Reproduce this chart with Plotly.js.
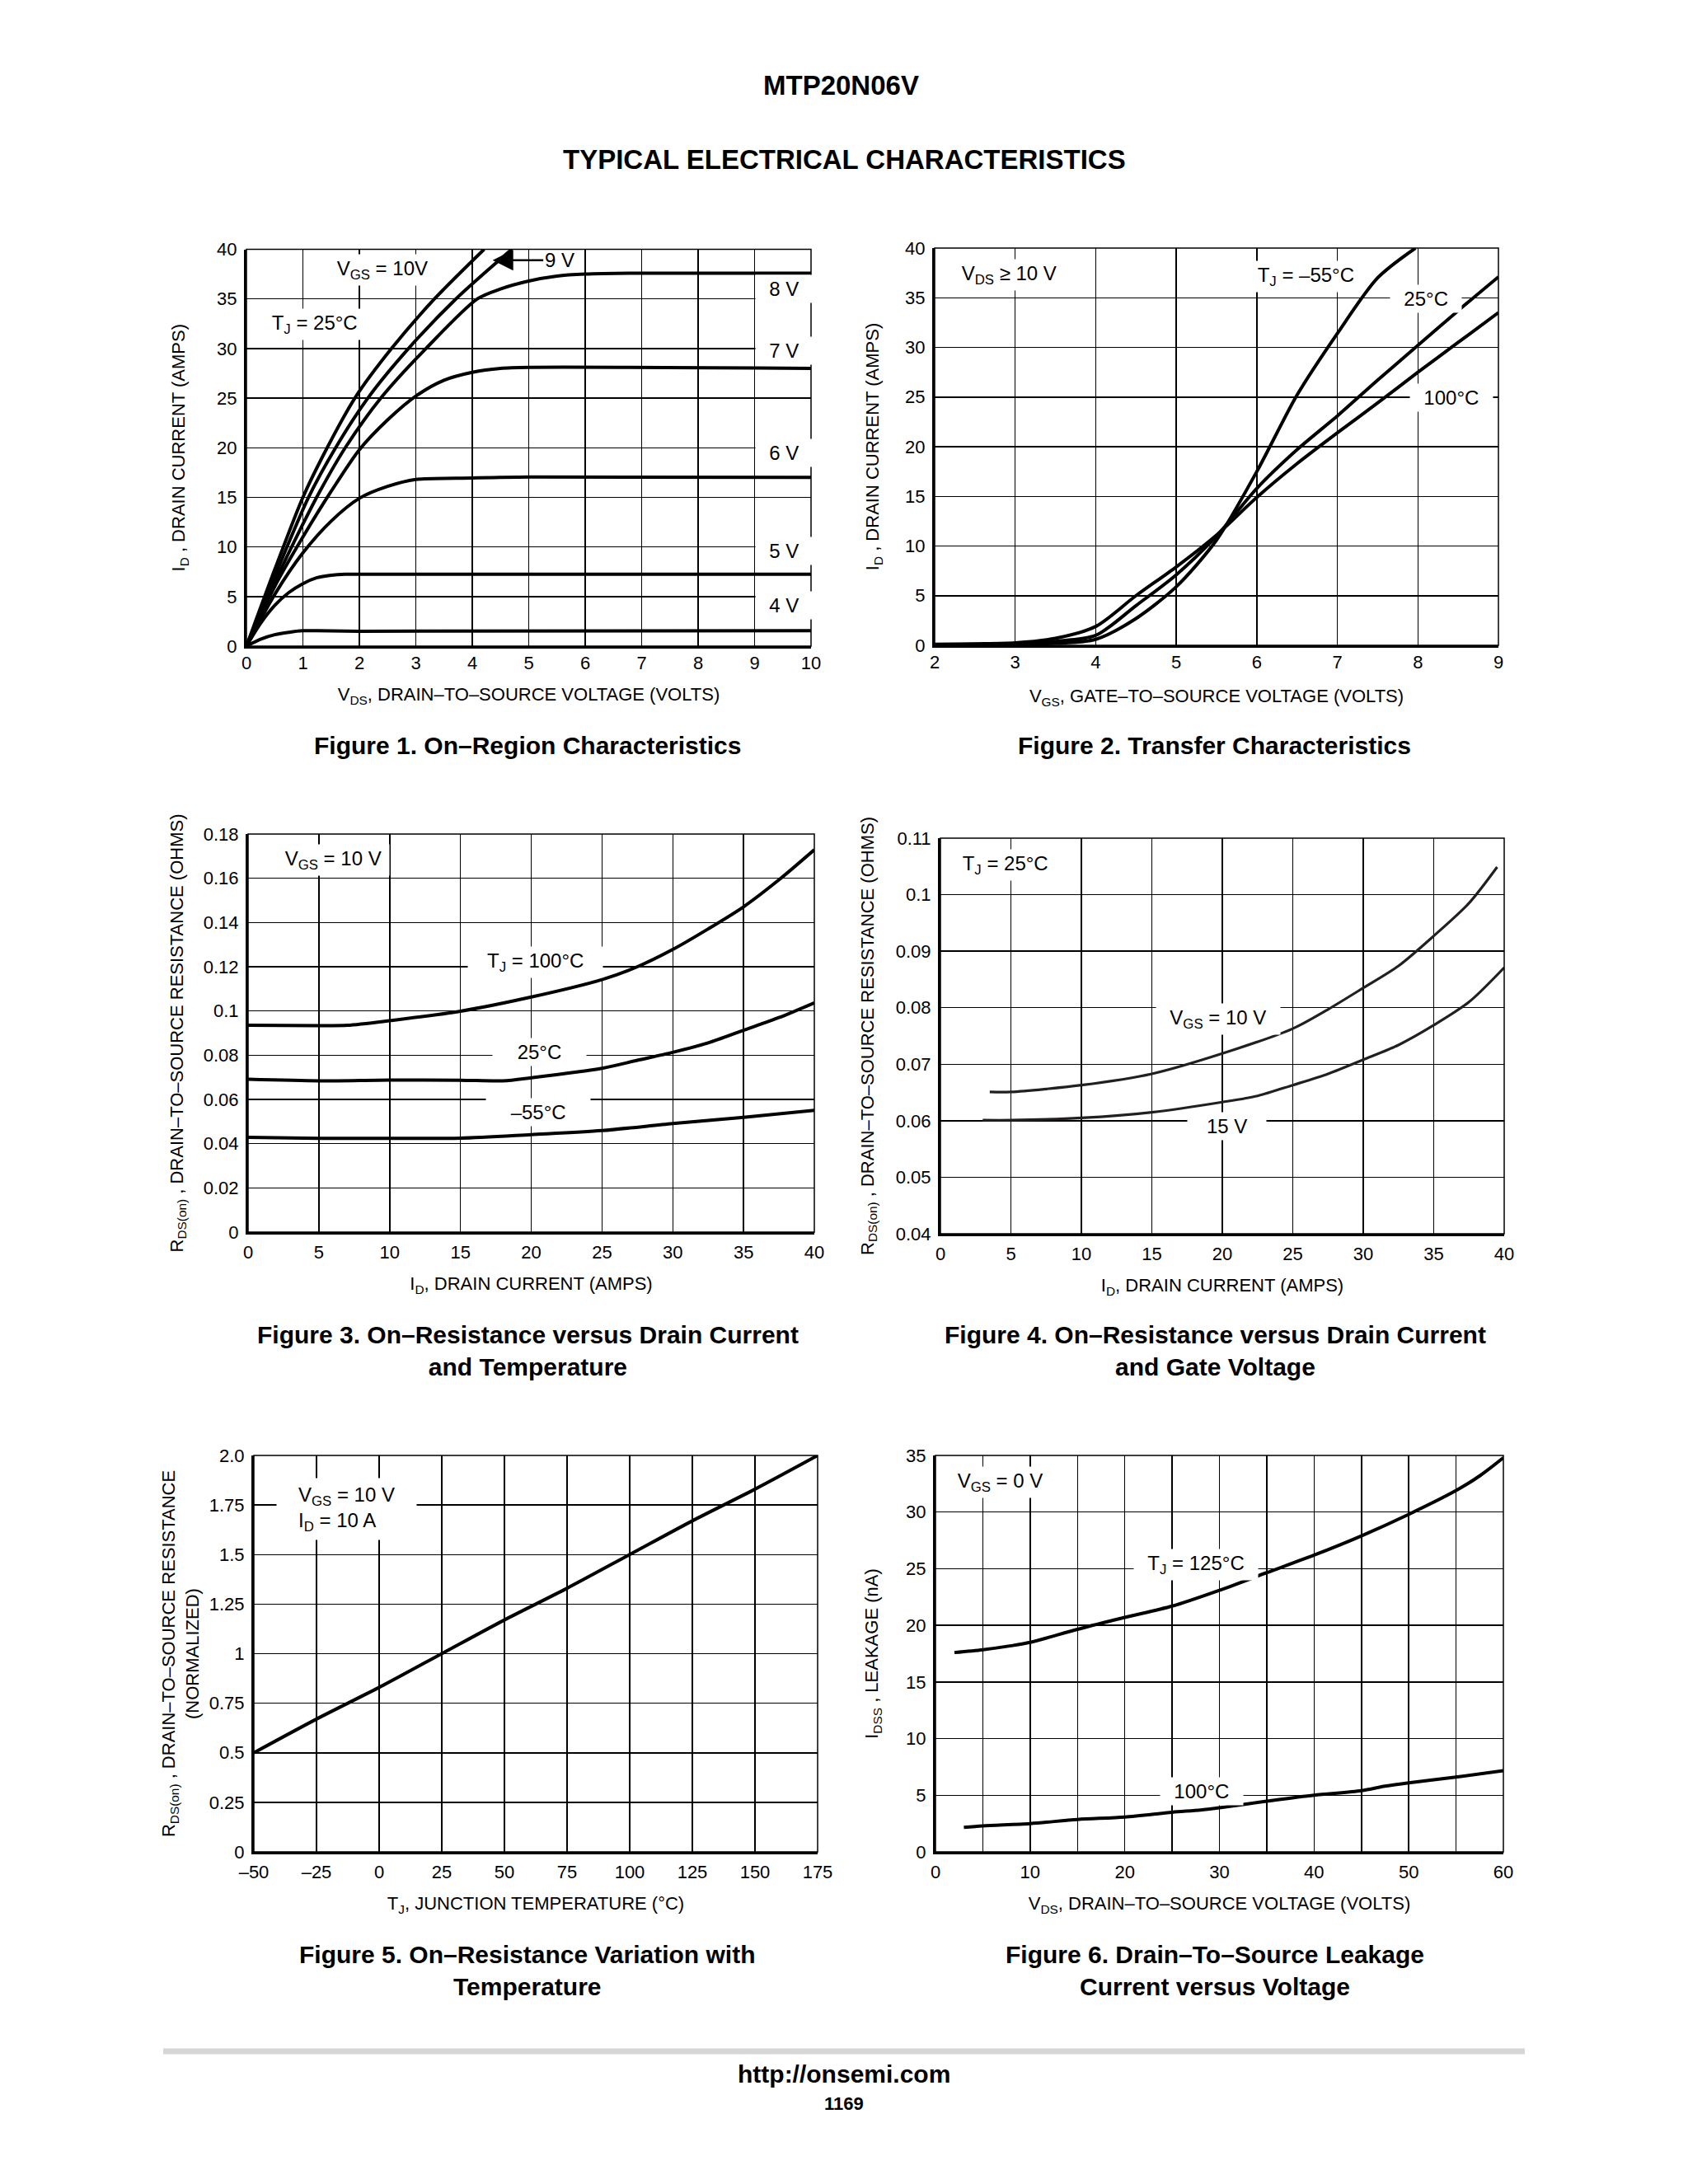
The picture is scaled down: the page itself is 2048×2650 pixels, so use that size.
<!DOCTYPE html>
<html>
<head>
<meta charset="utf-8">
<script src="https://cdn.plot.ly/plotly-3.0.1.min.js"></script>
<style>
html,body{margin:0;padding:0;background:#fff;}
#page{width:2048px;height:2650px;}
</style>
</head>
<body>
<div id="page"></div>
<script>
// ---------------- DATA ----------------
// Figure 1: On-Region Characteristics (VDS in volts, ID in amps)
const f1_v10_x = [0,0.5,1.0,1.43,1.92,2.57,3.33,4.21];
const f1_v10_y = [0,7.7,15,20,25,30,35,40];
const f1_v9_x  = [0,0.5,1.1,1.58,2.15,2.87,3.71,4.7];
const f1_v9_y  = [0,7.0,15,20,25,30,35,40];
const f1_v8_x  = [0,0.5,1,1.3,1.75,2.38,3.18,4.09,4.5,5,5.5,6,7,10];
const f1_v8_y  = [0,6.4,12.3,15.6,20,25,30,35,36.0,36.8,37.3,37.5,37.6,37.6];
const f1_v7_x  = [0,0.5,1,1.5,2,2.5,3,3.5,4,4.5,5,10];
const f1_v7_y  = [0,6.0,11.0,15.6,19.8,22.8,25.2,26.8,27.6,28.0,28.1,28.0];
const f1_v6_x  = [0,0.5,1,1.5,2,2.5,3,4,5,10];
const f1_v6_y  = [0,5.2,9.4,12.6,14.9,16.1,16.8,16.95,17.05,17.0];
const f1_v5_x  = [0,0.25,0.5,0.75,1,1.25,1.5,1.75,2,10];
const f1_v5_y  = [0,2.3,4.1,5.4,6.3,6.9,7.15,7.25,7.25,7.25];
const f1_v4_x  = [0,0.25,0.5,0.75,1,1.25,2,10];
const f1_v4_y  = [0,0.7,1.15,1.4,1.55,1.55,1.5,1.55];
const f1_xticks = [0,1,2,3,4,5,6,7,8,9,10];
const f1_yticks = [0,5,10,15,20,25,30,35,40];

// Figure 2: Transfer Characteristics (VGS volts, ID amps)
const f2_m55_x = [2,2.5,3,3.5,4,4.5,5,5.5,6,6.5,7,7.5,7.97];
const f2_m55_y = [0.05,0.05,0.1,0.2,0.6,2.7,5.9,10.6,17.5,25.2,31.4,37.0,40];
const f2_25_x  = [2,2.5,3,3.5,4,4.5,5,5.5,6,6.5,7,7.5,8,8.5,9];
const f2_25_y  = [0.05,0.1,0.15,0.4,1.0,4.0,7.1,11.0,15.8,19.7,23.1,26.7,30.2,33.7,37.1];
const f2_100_x = [2,2.5,3,3.5,4,4.5,5,5.5,6,6.5,7,7.5,8,8.5,9];
const f2_100_y = [0.1,0.15,0.25,0.7,1.9,5.0,7.9,11.1,14.9,18.3,21.4,24.4,27.5,30.5,33.5];
const f2_xticks = [2,3,4,5,6,7,8,9];
const f2_yticks = [0,5,10,15,20,25,30,35,40];

// Figure 3: RDS(on) vs ID and temperature
const f3_100_x = [0,5,7,10,15,20,25,27.5,30,32.5,35,37.5,40];
const f3_100_y = [0.0935,0.0934,0.0935,0.0956,0.0999,0.1063,0.1142,0.12,0.1278,0.1371,0.1471,0.1593,0.1729];
const f3_25_x  = [0,5,10,15,18,20,25,27.5,30,32.5,35,37.5,40];
const f3_25_y  = [0.0691,0.0684,0.0688,0.0687,0.0684,0.0698,0.0741,0.0777,0.0813,0.0856,0.0913,0.097,0.1037];
const f3_m55_x = [0,5,10,15,20,25,30,35,40];
const f3_m55_y = [0.0429,0.0424,0.0424,0.0425,0.0441,0.0459,0.0491,0.0519,0.0551];
const f3_xticks = [0,5,10,15,20,25,30,35,40];
const f3_yticks = [0,0.02,0.04,0.06,0.08,0.1,0.12,0.14,0.16,0.18];
const f3_ytext  = ['0','0.02','0.04','0.06','0.08','0.1','0.12','0.14','0.16','0.18'];

// Figure 4: RDS(on) vs ID and gate voltage
const f4_10_x = [3.5,5,10,15,20,25,27.5,30,32.5,35,37.5,39.5];
const f4_10_y = [0.0651,0.0651,0.0663,0.0683,0.0719,0.0763,0.0797,0.0835,0.0874,0.0927,0.0985,0.1049];
const f4_15_x = [3,5,10,15,20,22.5,25,27.5,30,32.5,35,37.5,40];
const f4_15_y = [0.0601,0.0601,0.0605,0.0615,0.0633,0.0644,0.0663,0.0683,0.0708,0.0734,0.0769,0.081,0.0871];
const f4_xticks = [0,5,10,15,20,25,30,35,40];
const f4_yticks = [0.04,0.05,0.06,0.07,0.08,0.09,0.1,0.11];
const f4_ytext  = ['0.04','0.05','0.06','0.07','0.08','0.09','0.1','0.11'];

// Figure 5: normalized RDS(on) vs TJ
const f5_x = [-50,-25,0,25,50,75,100,125,150,175];
const f5_y = [0.5,0.67,0.83,1.0,1.17,1.33,1.5,1.67,1.83,2.0];
const f5_xticks = [-50,-25,0,25,50,75,100,125,150,175];
const f5_xtext  = ['\u201350','\u201325','0','25','50','75','100','125','150','175'];
const f5_yticks = [0,0.25,0.5,0.75,1,1.25,1.5,1.75,2];
const f5_ytext  = ['0','0.25','0.5','0.75','1','1.25','1.5','1.75','2.0'];

// Figure 6: IDSS leakage vs VDS
const f6_125_x = [2,5,8,10,15,20,25,30,35,40,45,50,55,57.5,60];
const f6_125_y = [17.6,17.85,18.2,18.5,19.65,20.7,21.7,23.1,24.65,26.2,27.9,29.8,31.9,33.2,34.8];
const f6_100_x = [3,5,10,15,20,25,28,30,35,40,45,47.5,50,55,60];
const f6_100_y = [2.16,2.3,2.5,2.86,3.08,3.5,3.7,3.9,4.47,5.0,5.4,5.8,6.1,6.6,7.16];
const f6_xticks = [0,10,20,30,40,50,60];
const f6_yticks = [0,5,10,15,20,25,30,35];

// ---------------- LAYOUT ----------------
const W = 2048, H = 2650;
const FONT = "'Liberation Sans', Arial, Helvetica, sans-serif";
const BLACK = '#000';
// plot boxes in page pixels: [left, right, top, bottom]
const boxes = [
  [299, 984, 302.5, 784],
  [1134, 1818, 301, 783],
  [301, 988, 1012, 1495],
  [1141, 1825, 1017, 1497],
  [308, 992, 1766, 2247],
  [1135, 1824, 1766, 2247]
];
const sfx = i => (i === 1 ? '' : String(i));

const layout = {
  width: W, height: H,
  margin: {l: 0, r: 0, t: 0, b: 0, pad: 0},
  paper_bgcolor: '#fff', plot_bgcolor: '#fff',
  font: {family: FONT, color: BLACK, size: 22},
  showlegend: false,
  annotations: [], shapes: []
};

function axes(i, xstand, xa, ya) {
  const b = boxes[i - 1], s = sfx(i);
  const common = {
    showgrid: true, gridcolor: BLACK, gridwidth: 1.5,
    showline: true, linecolor: BLACK, linewidth: 3, mirror: false,
    zeroline: false, ticks: '', fixedrange: true, tickmode: 'array',
    tickfont: {family: FONT, size: 22, color: BLACK}
  };
  layout['xaxis' + s] = Object.assign({}, common, {
    domain: [b[0] / W, b[1] / W], anchor: 'y' + s, ticklabelstandoff: xstand
  }, xa);
  layout['yaxis' + s] = Object.assign({}, common, {
    domain: [1 - b[3] / H, 1 - b[2] / H], anchor: 'x' + s, ticklabelstandoff: 4
  }, ya);
  layout.shapes.push({type: 'rect', xref: 'x' + s + ' domain', yref: 'y' + s + ' domain',
    x0: 0, x1: 1, y0: 0, y1: 1, line: {color: BLACK, width: 1.5}, layer: 'above'});
}
function ttl(text, standoff) {
  return {text: text, font: {family: FONT, size: 22, color: BLACK}, standoff: standoff};
}

axes(1, -1,
  {range: [0, 10], tickvals: f1_xticks, title: ttl('V<sub>DS</sub>, DRAIN\u2013TO\u2013SOURCE VOLTAGE (VOLTS)', 19)},
  {range: [0, 40], tickvals: f1_yticks, title: ttl('I<sub>D</sub> , DRAIN CURRENT (AMPS)', 33)});
axes(2, -1,
  {range: [2, 9], tickvals: f2_xticks, title: ttl('V<sub>GS</sub>, GATE\u2013TO\u2013SOURCE VOLTAGE (VOLTS)', 22)},
  {range: [0, 40], tickvals: f2_yticks, title: ttl('I<sub>D</sub> , DRAIN CURRENT (AMPS)', 26)});
axes(3, 3,
  {range: [0, 40], tickvals: f3_xticks, title: ttl('I<sub>D</sub>, DRAIN CURRENT (AMPS)', 19)},
  {range: [0, 0.18], tickvals: f3_yticks, ticktext: f3_ytext, title: ttl('R<sub>DS(on)</sub> , DRAIN\u2013TO\u2013SOURCE RESISTANCE (OHMS)', 19)});
axes(4, 3,
  {range: [0, 40], tickvals: f4_xticks, title: ttl('I<sub>D</sub>, DRAIN CURRENT (AMPS)', 19)},
  {range: [0.04, 0.11], tickvals: f4_yticks, ticktext: f4_ytext, title: ttl('R<sub>DS(on)</sub> , DRAIN\u2013TO\u2013SOURCE RESISTANCE (OHMS)', 21)});
axes(5, 3,
  {range: [-50, 175], tickvals: f5_xticks, ticktext: f5_xtext, title: ttl('T<sub>J</sub>, JUNCTION TEMPERATURE (\u00b0C)', 19)},
  {range: [0, 2], tickvals: f5_yticks, ticktext: f5_ytext, title: ttl('R<sub>DS(on)</sub> , DRAIN\u2013TO\u2013SOURCE RESISTANCE<br>(NORMALIZED)', 7)});
axes(6, 3,
  {range: [0, 60], tickvals: f6_xticks, minor: {dtick: 5, tick0: 0, showgrid: true, gridcolor: BLACK, gridwidth: 1.5, ticks: ''},
   title: ttl('V<sub>DS</sub>, DRAIN\u2013TO\u2013SOURCE VOLTAGE (VOLTS)', 19)},
  {range: [0, 35], tickvals: f6_yticks, title: ttl('I<sub>DSS</sub> , LEAKAGE (nA)', 28)});

// ---------------- TRACES ----------------
const traces = [];
function curve(i, xs, ys, w, c) {
  const s = sfx(i);
  traces.push({x: xs, y: ys, xaxis: 'x' + s, yaxis: 'y' + s, type: 'scatter', mode: 'lines',
    line: {color: c || BLACK, width: w || 4, shape: 'spline', smoothing: 0.8},
    hoverinfo: 'skip', showlegend: false, cliponaxis: true});
}
curve(1, f1_v10_x, f1_v10_y); curve(1, f1_v9_x, f1_v9_y); curve(1, f1_v8_x, f1_v8_y);
curve(1, f1_v7_x, f1_v7_y); curve(1, f1_v6_x, f1_v6_y); curve(1, f1_v5_x, f1_v5_y);
curve(1, f1_v4_x, f1_v4_y);
curve(2, f2_m55_x, f2_m55_y); curve(2, f2_25_x, f2_25_y); curve(2, f2_100_x, f2_100_y);
curve(3, f3_100_x, f3_100_y); curve(3, f3_25_x, f3_25_y); curve(3, f3_m55_x, f3_m55_y);
curve(4, f4_10_x, f4_10_y, 3.2, '#231f20'); curve(4, f4_15_x, f4_15_y, 3.2, '#231f20');
curve(5, f5_x, f5_y);
curve(6, f6_125_x, f6_125_y); curve(6, f6_100_x, f6_100_y);

// ---------------- IN-PLOT LABELS ----------------
const NB = '\u00a0';
function lab(i, x, y, text, extra) {
  const s = sfx(i);
  layout.annotations.push(Object.assign({
    xref: 'x' + s, yref: 'y' + s, x: x, y: y, text: text, showarrow: false,
    font: {family: FONT, size: 24, color: BLACK}, bgcolor: '#fff', borderpad: 3,
    xanchor: 'center', yanchor: 'middle'
  }, extra || {}));
}
// Fig 1
lab(1, 2.41, 37.9, NB + 'V<sub>GS</sub> = 10V' + NB);
lab(1, 1.2, 32.4, NB + 'T<sub>J</sub> = 25\u00b0C' + NB);
lab(1, 9.53, 36.0, NB + NB + '8 V' + NB + NB);
lab(1, 9.53, 29.8, NB + NB + '7 V' + NB + NB);
lab(1, 9.53, 19.5, NB + NB + '6 V' + NB + NB);
lab(1, 9.53, 9.6, NB + NB + '5 V' + NB + NB);
lab(1, 9.53, 4.1, NB + NB + '4 V' + NB + NB);
layout.annotations.push({xref: 'x', yref: 'y', x: 4.36, y: 38.9, text: '9 V',
  showarrow: true, arrowhead: 2, arrowsize: 2, arrowwidth: 2.5, arrowcolor: BLACK,
  ax: 81, ay: 0, standoff: 0, font: {family: FONT, size: 24, color: BLACK}});
// Fig 2
lab(2, 2.93, 37.3, NB + 'V<sub>DS</sub> \u2265 10 V' + NB);
lab(2, 6.61, 37.1, NB + 'T<sub>J</sub> = \u201355\u00b0C' + NB);
lab(2, 8.1, 34.9, NB + NB + '25\u00b0C' + NB + NB);
lab(2, 8.42, 24.9, NB + NB + '100\u00b0C' + NB + NB);
// Fig 3
lab(3, 5.97, 0.1683, NB + 'V<sub>GS</sub> = 10 V' + NB);
lab(3, 20.3, 0.122, NB + NB + NB + 'T<sub>J</sub> = 100\u00b0C' + NB + NB + NB);
lab(3, 20.6, 0.0813, NB + NB + NB + NB + '25\u00b0C' + NB + NB + NB + NB);
lab(3, 20.5, 0.0542, NB + NB + NB + NB + '\u201355\u00b0C' + NB + NB + NB + NB);
// Fig 4
lab(4, 4.6, 0.1052, NB + 'T<sub>J</sub> = 25\u00b0C' + NB);
lab(4, 19.7, 0.078, NB + NB + 'V<sub>GS</sub> = 10 V' + NB + NB);
lab(4, 20.3, 0.0591, NB + NB + NB + '15 V' + NB + NB + NB);
// Fig 5
lab(5, -13, 1.728, NB + NB + NB + 'V<sub>GS</sub> = 10 V' + NB + NB + NB + '<br>' + NB + NB + NB + 'I<sub>D</sub> = 10 A', {align: 'left', borderpad: 6});
// Fig 6
lab(6, 6.8, 32.6, NB + 'V<sub>GS</sub> = 0 V' + NB);
lab(6, 27.5, 25.35, NB + NB + 'T<sub>J</sub> = 125\u00b0C' + NB + NB);
lab(6, 28.1, 5.37, NB + NB + '100\u00b0C' + NB + NB);

// ---------------- PAGE TEXT ----------------
function pageText(px, py, text, size, extra) {
  layout.annotations.push(Object.assign({
    xref: 'paper', yref: 'paper', x: px / W, y: 1 - py / H, text: text, showarrow: false,
    xanchor: 'center', yanchor: 'middle', font: {family: FONT, size: size, color: BLACK}
  }, extra || {}));
}
pageText(1020, 103, '<b>MTP20N06V</b>', 33);
pageText(1024, 194, '<b>TYPICAL ELECTRICAL CHARACTERISTICS</b>', 33);
pageText(640, 904, '<b>Figure 1. On\u2013Region Characteristics</b>', 30);
pageText(1473, 904, '<b>Figure 2. Transfer Characteristics</b>', 30);
pageText(640, 1639, '<b>Figure 3. On\u2013Resistance versus Drain Current<br>and Temperature</b>', 30);
pageText(1474, 1639, '<b>Figure 4. On\u2013Resistance versus Drain Current<br>and Gate Voltage</b>', 30);
pageText(640, 2391, '<b>Figure 5. On\u2013Resistance Variation with<br>Temperature</b>', 30);
pageText(1474, 2391, '<b>Figure 6. Drain\u2013To\u2013Source Leakage<br>Current versus Voltage</b>', 30);
pageText(1024, 2516, '<b>http://onsemi.com</b>', 30);
pageText(1024, 2552, '<b>1169</b>', 22);
layout.shapes.push({type: 'line', xref: 'paper', yref: 'paper',
  x0: 198 / W, x1: 1850 / W, y0: 1 - 2489 / H, y1: 1 - 2489 / H,
  line: {color: '#d6d6d8', width: 7}});

Plotly.newPlot('page', traces, layout, {staticPlot: true, displayModeBar: false});
</script>
</body>
</html>
